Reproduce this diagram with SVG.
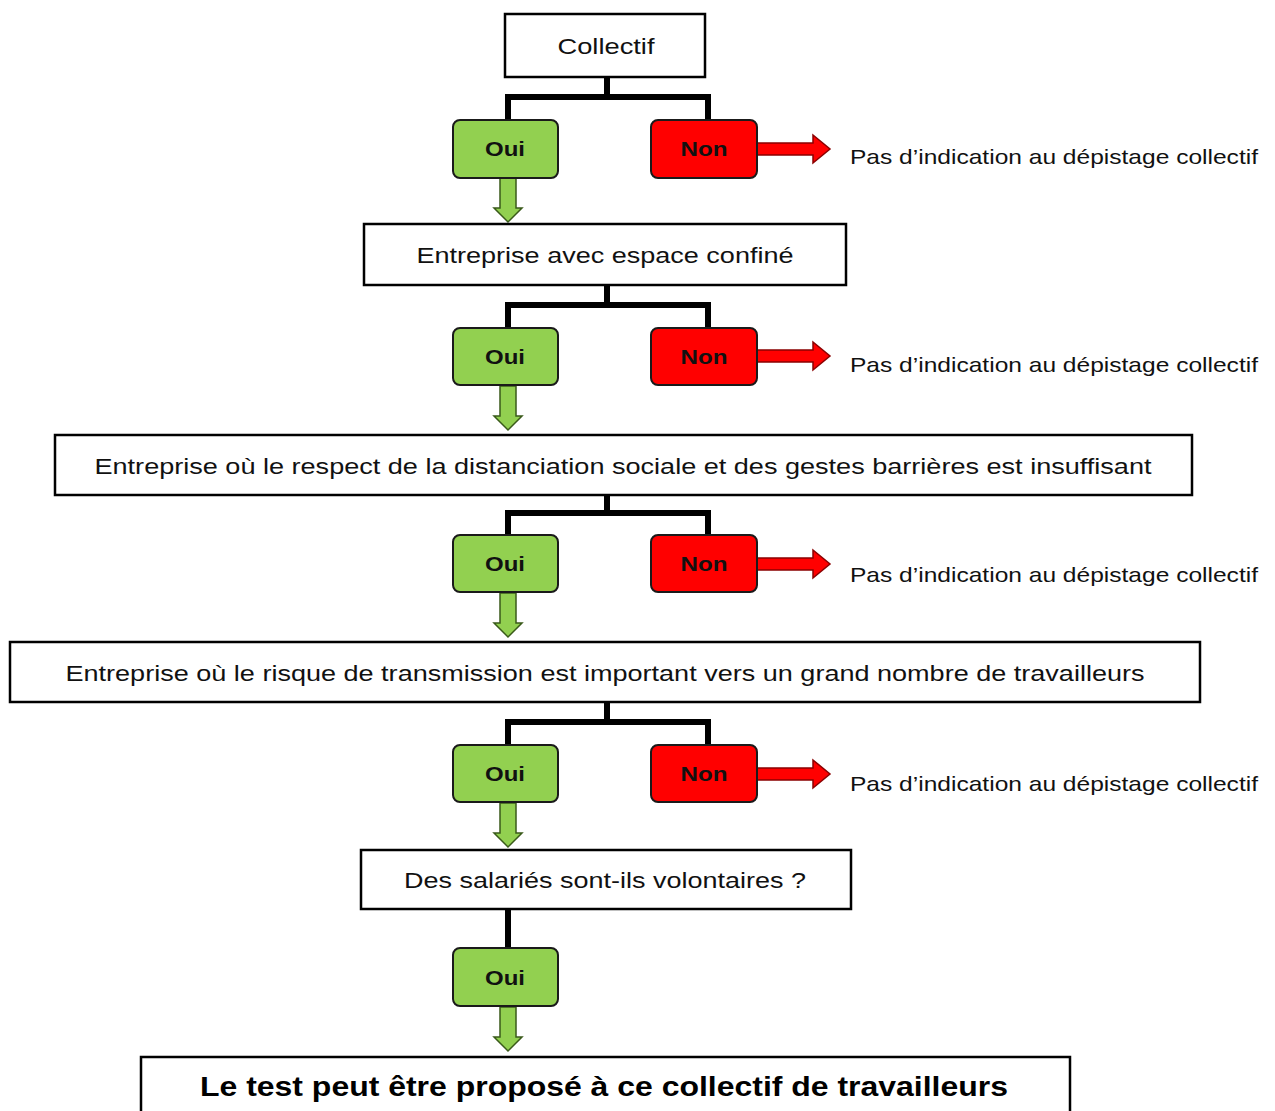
<svg xmlns="http://www.w3.org/2000/svg" width="1275" height="1111" viewBox="0 0 1275 1111">
<style>
.box{fill:#fff;stroke:#000;stroke-width:2.5}
.oui{fill:#92d050;stroke:#1a1a1a;stroke-width:2}
.non{fill:#ff0000;stroke:#1a1a1a;stroke-width:2}
.conn{fill:none;stroke:#000;stroke-width:6}
.garr{fill:#92d050;stroke:#3a5a1a;stroke-width:1.5}
.rarr{fill:#ff0000;stroke:#8a0000;stroke-width:1.5}
.t{font-family:"Liberation Sans",Arial,sans-serif;font-size:22px;fill:#111;text-anchor:middle}
.lbl{font-family:"Liberation Sans",Arial,sans-serif;font-size:21px;font-weight:bold;fill:#111;text-anchor:middle}
.pas{font-family:"Liberation Sans",Arial,sans-serif;font-size:21px;fill:#111}
.fin{font-family:"Liberation Sans",Arial,sans-serif;font-size:28px;font-weight:bold;fill:#000;text-anchor:middle}
</style>
<defs>
<path id="ga" d="M-8,0 H8 V30 H14 L0,44 L-14,30 H-8 Z"/>
<path id="ra" d="M0,-6 H56 V-14 L73,0 L56,14 V6 H0 Z"/>
</defs>
<g id="connectors">
<path class="conn" d="M607,77 V97 M508,120 V97 H708 V120"/>
<path class="conn" d="M607,285 V305 M508,328 V305 H708 V328"/>
<path class="conn" d="M607,495 V513 M508,535 V513 H708 V535"/>
<path class="conn" d="M607,702 V722 M508,745 V722 H708 V745"/>
<path class="conn" d="M508,909 V948"/>
<use href="#ga" class="garr" x="508" y="178"/>
<use href="#ga" class="garr" x="508" y="386"/>
<use href="#ga" class="garr" x="508" y="593"/>
<use href="#ga" class="garr" x="508" y="803"/>
<use href="#ga" class="garr" x="508" y="1007"/>
<use href="#ra" class="rarr" x="757" y="149"/>
<use href="#ra" class="rarr" x="757" y="356"/>
<use href="#ra" class="rarr" x="757" y="564"/>
<use href="#ra" class="rarr" x="757" y="774"/>
</g>
<g id="collectif"><rect class="box" x="505" y="14" width="200" height="63"/><text class="t" x="606" y="54" textLength="97" lengthAdjust="spacingAndGlyphs">Collectif</text></g>
<g id="oui1"><rect class="oui" x="453" y="120" width="105" height="58" rx="7"/><text class="lbl" x="505" y="156" textLength="40" lengthAdjust="spacingAndGlyphs">Oui</text></g>
<g id="non1"><rect class="non" x="651" y="120" width="106" height="58" rx="7"/><text class="lbl" x="704" y="156" textLength="47" lengthAdjust="spacingAndGlyphs">Non</text></g>
<g id="pas1"><text class="pas" x="850" y="164" textLength="408" lengthAdjust="spacingAndGlyphs">Pas d’indication au dépistage collectif</text></g>
<g id="espace"><rect class="box" x="364" y="224" width="482" height="61"/><text class="t" x="605" y="263" textLength="377" lengthAdjust="spacingAndGlyphs">Entreprise avec espace confiné</text></g>
<g id="oui2"><rect class="oui" x="453" y="328" width="105" height="57" rx="7"/><text class="lbl" x="505" y="364" textLength="40" lengthAdjust="spacingAndGlyphs">Oui</text></g>
<g id="non2"><rect class="non" x="651" y="328" width="106" height="57" rx="7"/><text class="lbl" x="704" y="364" textLength="47" lengthAdjust="spacingAndGlyphs">Non</text></g>
<g id="pas2"><text class="pas" x="850" y="372" textLength="408" lengthAdjust="spacingAndGlyphs">Pas d’indication au dépistage collectif</text></g>
<g id="distanciation"><rect class="box" x="55" y="435" width="1137" height="60"/><text class="t" x="623" y="474" textLength="1057" lengthAdjust="spacingAndGlyphs">Entreprise où le respect de la distanciation sociale et des gestes barrières est insuffisant</text></g>
<g id="oui3"><rect class="oui" x="453" y="535" width="105" height="57" rx="7"/><text class="lbl" x="505" y="571" textLength="40" lengthAdjust="spacingAndGlyphs">Oui</text></g>
<g id="non3"><rect class="non" x="651" y="535" width="106" height="57" rx="7"/><text class="lbl" x="704" y="571" textLength="47" lengthAdjust="spacingAndGlyphs">Non</text></g>
<g id="pas3"><text class="pas" x="850" y="582" textLength="408" lengthAdjust="spacingAndGlyphs">Pas d’indication au dépistage collectif</text></g>
<g id="transmission"><rect class="box" x="10" y="642" width="1190" height="60"/><text class="t" x="605" y="681" textLength="1079" lengthAdjust="spacingAndGlyphs">Entreprise où le risque de transmission est important vers un grand nombre de travailleurs</text></g>
<g id="oui4"><rect class="oui" x="453" y="745" width="105" height="57" rx="7"/><text class="lbl" x="505" y="781" textLength="40" lengthAdjust="spacingAndGlyphs">Oui</text></g>
<g id="non4"><rect class="non" x="651" y="745" width="106" height="57" rx="7"/><text class="lbl" x="704" y="781" textLength="47" lengthAdjust="spacingAndGlyphs">Non</text></g>
<g id="pas4"><text class="pas" x="850" y="791" textLength="408" lengthAdjust="spacingAndGlyphs">Pas d’indication au dépistage collectif</text></g>
<g id="volontaires"><rect class="box" x="361" y="850" width="490" height="59"/><text class="t" x="605" y="888" textLength="402" lengthAdjust="spacingAndGlyphs">Des salariés sont-ils volontaires ?</text></g>
<g id="oui5"><rect class="oui" x="453" y="948" width="105" height="58" rx="7"/><text class="lbl" x="505" y="985" textLength="40" lengthAdjust="spacingAndGlyphs">Oui</text></g>
<g id="resultat"><rect class="box" x="141" y="1057" width="929" height="70"/><text class="fin" x="604" y="1096" textLength="808" lengthAdjust="spacingAndGlyphs">Le test peut être proposé à ce collectif de travailleurs</text></g>
</svg>
